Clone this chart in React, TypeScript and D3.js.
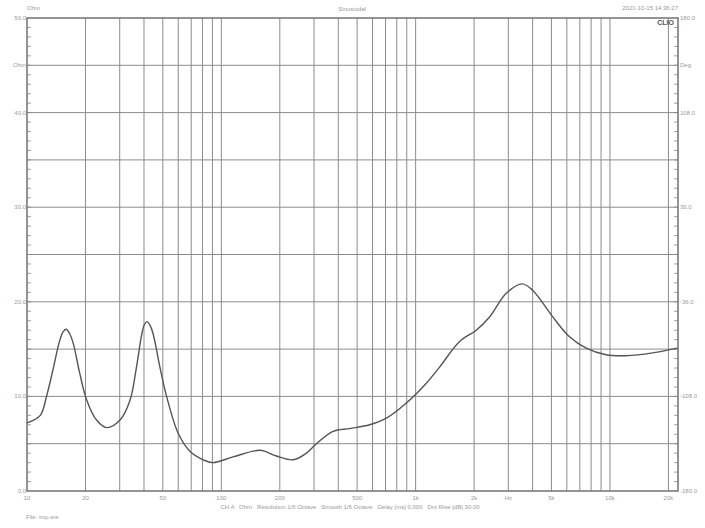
import React from 'react';
import * as d3 from 'd3';

// impedance curve
const freqHz = [10, 11.7, 12.6, 13.7, 14.6, 15.3, 15.9, 16.6, 17.3, 18.7, 20.3, 22.8, 25.7, 30.1, 33.9, 36.6, 38.9, 40.2, 41.6, 43.0, 44.6, 48.3, 52.3, 60, 68.9, 80.6, 90.7, 115, 158, 192, 234, 274, 309, 376, 458, 580, 707, 896, 1135, 1329, 1684, 2051, 2402, 2927, 3538, 4009, 5080, 6192, 7545, 9550, 12100, 16600, 22200];
const impedanceOhm = [7.2, 8.0, 10.0, 13.1, 15.6, 16.8, 17.1, 16.6, 15.6, 12.4, 9.6, 7.5, 6.7, 7.5, 9.6, 13.1, 16.5, 17.6, 17.9, 17.5, 16.6, 13.1, 10.0, 6.1, 4.2, 3.3, 3.0, 3.6, 4.3, 3.7, 3.3, 4.0, 5.0, 6.3, 6.6, 7.0, 7.7, 9.3, 11.4, 13.1, 15.8, 17.0, 18.4, 20.9, 21.9, 21.2, 18.4, 16.3, 15.1, 14.4, 14.3, 14.6, 15.1];

const gridFreqs = [20, 30, 40, 50, 60, 70, 80, 90, 100, 200, 300, 400, 500, 600, 700, 800, 900, 1000, 2000, 3000, 4000, 5000, 6000, 7000, 8000, 9000, 10000, 20000];
const xLabelFreqs = [10, 20, 50, 100, 200, 500, 1000, 2000, 3000, 5000, 10000, 20000];
const xLabelText = ['10', '20', '50', '100', '200', '500', '1k', '2k', 'Hz', '5k', '10k', '20k'];
const leftLabelVals = [50, 45, 40, 30, 20, 10, 0];
const leftLabelText = ['50.0', 'Ohm', '40.0', '30.0', '20.0', '10.0', '0.0'];
const rightLabelText = ['180.0', 'Deg', '108.0', '36.0', '-36.0', '-108.0', '-180.0'];

const W = 705, H = 528;
const left = 27, right = 678, top = 18, bottom = 491;
const font = '"Liberation Sans", Arial, sans-serif';
const txt = '#9a9a9a';

export default function App() {
  const x = d3.scaleLog().domain([10, 22400]).range([left, right]);
  const y = d3.scaleLinear().domain([0, 50]).range([bottom, top]);
  const line = d3.line<number>()
    .x((_, i) => x(freqHz[i]))
    .y((d) => y(d))
    .curve(d3.curveCatmullRom.alpha(0.5));

  const minor = d3.range(1, 50); // 1 ohm ticks
  const hGrid = d3.range(5, 50, 5);

  return (
    <svg width={W} height={H} style={{position: 'absolute', left: 0, top: 0, background: '#fff'}} fontFamily={font}>
      <rect x={0} y={0} width={W} height={H} fill="#fff" />
      {/* grid */}
      {gridFreqs.map((f) => (
        <line key={'v' + f} x1={x(f)} x2={x(f)} y1={top} y2={bottom} stroke="#8c8c8c" strokeWidth={1} />
      ))}
      {hGrid.map((v) => (
        <line key={'h' + v} x1={left} x2={right} y1={y(v)} y2={y(v)} stroke="#8c8c8c" strokeWidth={1} />
      ))}
      {/* minor ticks */}
      {minor.map((v) => (
        <g key={'t' + v}>
          <line x1={left} x2={left + 4} y1={y(v)} y2={y(v)} stroke="#888" strokeWidth={0.8} />
          <line x1={right - 4} x2={right} y1={y(v)} y2={y(v)} stroke="#888" strokeWidth={0.8} />
        </g>
      ))}
      {/* frame */}
      <rect x={left} y={top} width={right - left} height={bottom - top} fill="none" stroke="#7a7a7a" strokeWidth={1.6} />

      <path d={line(impedanceOhm) || ''} fill="none" stroke="#555" strokeWidth={1.4} />

      {/* left labels */}
      {leftLabelVals.map((v, i) => (
        <text key={'l' + v} x={left - 1} y={y(v) + 2} textAnchor="end" fontSize={6} fill={txt}>{leftLabelText[i]}</text>
      ))}
      {leftLabelVals.map((v, i) => (
        <text key={'r' + v} x={right + 2} y={y(v) + 2} textAnchor="start" fontSize={6} fill={txt}>{rightLabelText[i]}</text>
      ))}
      {xLabelFreqs.map((f, i) => (
        <text key={'x' + f} x={x(f)} y={bottom + 9} textAnchor="middle" fontSize={6} fill={txt}>{xLabelText[i]}</text>
      ))}

      <text x={27} y={10} fontSize={6} fill={txt}>Ohm</text>
      <text x={352} y={11} textAnchor="middle" fontSize={6} fill={txt}>Sinusoidal</text>
      <text x={678} y={10} textAnchor="end" fontSize={6} fill={txt}>2021-10-15 14:36:27</text>
      <text x={674} y={25} textAnchor="end" fontSize={7} fontWeight="bold" fill="#555">CLIO</text>
      <text x={350} y={509} textAnchor="middle" fontSize={6} fill={txt} xmlSpace="preserve">CH A   Ohm   Resolution 1/6 Octave   Smooth 1/6 Octave   Delay [ms] 0.000   Dnt Rise [dB] 30.00</text>
      <text x={26} y={519} fontSize={6} fill={txt}>File: imp.sre</text>
    </svg>
  );
}
